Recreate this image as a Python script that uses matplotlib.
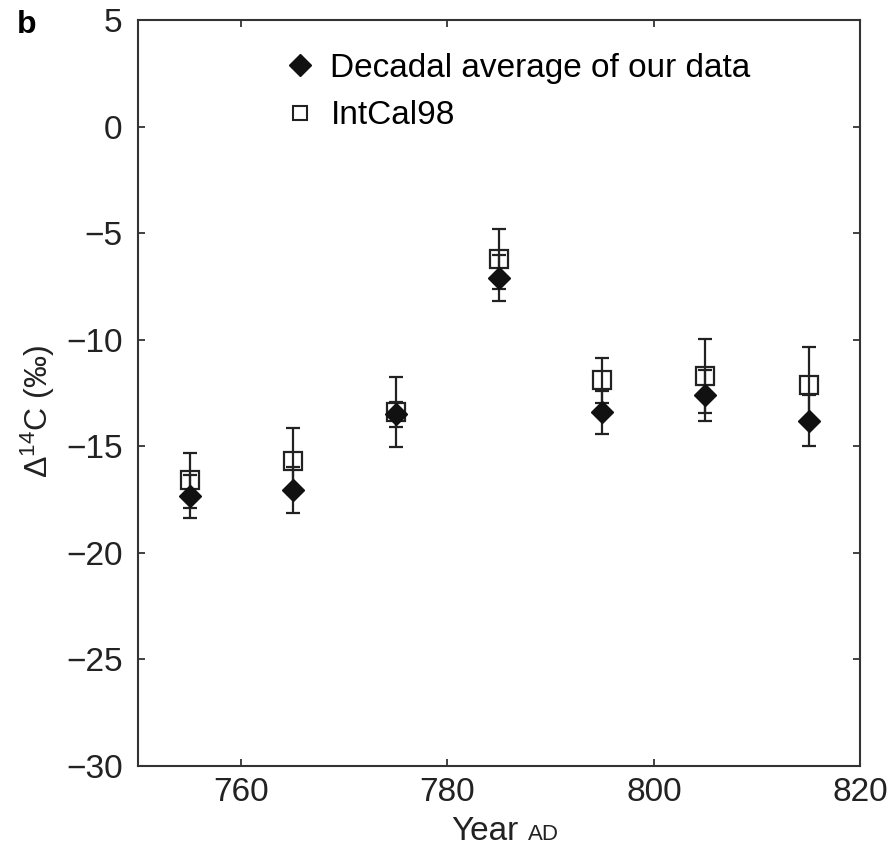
import matplotlib
matplotlib.use("Agg")
import matplotlib.pyplot as plt
from matplotlib.lines import Line2D

plt.rcParams['font.family'] = ['Liberation Sans', 'DejaVu Sans']
plt.rcParams['mathtext.default'] = 'regular'

# decadal points (year AD) and Delta14C values in permil
years = [755, 765, 775, 785, 795, 805, 815]
ours = [-17.35, -17.05, -13.5, -7.1, -13.4, -12.6, -13.8]
ours_err = [1.0, 1.1, 0.6, 1.1, 1.0, 1.2, 1.2]
intcal = [-16.6, -15.7, -13.4, -6.2, -11.9, -11.7, -12.1]
intcal_err = [1.3, 1.55, 1.65, 1.4, 1.05, 1.75, 1.75]

x_ticks = [760, 780, 800, 820]
y_ticks = [5, 0, -5, -10, -15, -20, -25, -30]

fig = plt.figure(figsize=(8.96, 8.48), dpi=100)
ax = fig.add_axes([0.154, 0.097, 0.806, 0.879])

ax.errorbar(years, intcal, yerr=intcal_err, fmt='s', ms=12.5, mfc='none',
            mec='#222222', mew=1.6, ecolor='#222222', elinewidth=1.6,
            capsize=5, capthick=1.6, zorder=2)
ax.errorbar(years, ours, yerr=ours_err, fmt='D', ms=11, mfc='#111111',
            mec='#111111', ecolor='#222222', elinewidth=1.6,
            capsize=5, capthick=1.6, zorder=3)

ax.set_xlim(750, 820)
ax.set_ylim(-30, 5)
ax.set_xticks(x_ticks)
ax.set_yticks(y_ticks)
ax.tick_params(direction='in', top=True, right=True, length=5, width=1.2,
               labelsize=24, colors='#222222')
ax.tick_params(axis='y', pad=11)
ax.tick_params(axis='x', pad=8)
for s in ax.spines.values():
    s.set_linewidth(1.5)
    s.set_color('#333333')

ax.set_ylabel('Δ$^{14}$C (‰)', fontsize=23, color='#222222')
ax.yaxis.set_label_coords(-0.112, 0.475)

# x label with small-caps style AD
fig.text(0.579, 0.01, 'Year', fontsize=24, ha='right', va='baseline', color='#222222')
fig.text(0.589, 0.01, 'AD', fontsize=16, ha='left', va='baseline', color='#222222')

fig.text(0.019, 0.971, 'b', fontsize=23, fontweight='bold', ha='left', va='center')

handles = [
    Line2D([], [], marker='D', ls='none', ms=11, mfc='#111111', mec='#111111'),
    Line2D([], [], marker='s', ls='none', ms=10, mfc='none', mec='#222222', mew=1.5),
]
ax.legend(handles, ['Decadal average of our data', 'IntCal98'], loc='upper left',
          bbox_to_anchor=(0.165, 0.997), frameon=False, fontsize=24,
          handlelength=0.8, handletextpad=0.5, labelspacing=0.5)

fig.savefig('out.png', dpi=100)
